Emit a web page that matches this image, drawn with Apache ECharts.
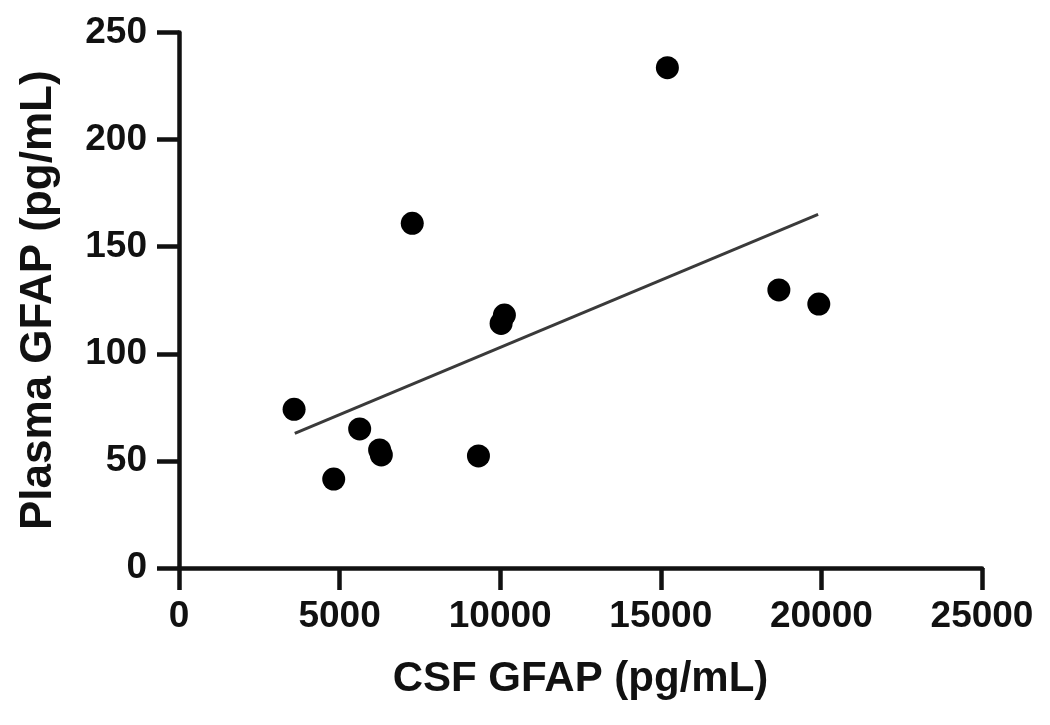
<!DOCTYPE html>
<html>
<head>
<meta charset="utf-8">
<script src="https://cdn.jsdelivr.net/npm/echarts@6/dist/echarts.min.js"></script>
<style>
html,body{margin:0;padding:0;background:#fff;}
#main{width:1050px;height:725px;}
</style>
</head>
<body>
<div id="main"></div>
<script>
const csfGfap = [3583, 4817, 5625, 6246, 6299, 9323, 7262, 10028, 10131, 15205, 18676, 19919];
const plasmaGfap = [74.1, 41.5, 64.9, 55.1, 52.8, 52.3, 160.9, 114.2, 118.1, 233.6, 129.8, 123.2];
const fitX = [3605, 19898];
const fitY = [62.9, 165.1];
const xTicks = [0, 5000, 10000, 15000, 20000, 25000];
const yTicks = [0, 50, 100, 150, 200, 250];

const points = csfGfap.map((x, i) => [x, plasmaGfap[i]]);
const fitLine = fitX.map((x, i) => [x, fitY[i]]);

const font = 'Liberation Sans, Arial, sans-serif';
const chart = echarts.init(document.getElementById('main'));
chart.setOption({
  animation: false,
  backgroundColor: '#fff',
  grid: { left: 179, right: 68, top: 32.5, bottom: 157 },
  xAxis: {
    type: 'value', min: xTicks[0], max: xTicks[xTicks.length - 1], interval: 5000,
    name: 'CSF GFAP (pg/mL)', nameLocation: 'middle', nameGap: 90,
    nameTextStyle: { fontFamily: font, fontWeight: 'bold', fontSize: 42, color: '#111' },
    axisLine: { lineStyle: { color: '#111', width: 4.5 } },
    axisTick: { length: 22, lineStyle: { color: '#111', width: 4.5 } },
    axisLabel: { margin: 30, fontFamily: font, fontWeight: 'bold', fontSize: 37, color: '#111',
      formatter: v => String(v) },
    splitLine: { show: false }
  },
  yAxis: {
    type: 'value', min: yTicks[0], max: yTicks[yTicks.length - 1], interval: 50,
    name: 'Plasma GFAP (pg/mL)', nameLocation: 'middle', nameGap: 118,
    nameTextStyle: { fontFamily: font, fontWeight: 'bold', fontSize: 44, color: '#111' },
    axisLine: { lineStyle: { color: '#111', width: 4.5 } },
    axisTick: { length: 22, lineStyle: { color: '#111', width: 4.5 } },
    axisLabel: { margin: 32, fontFamily: font, fontWeight: 'bold', fontSize: 37, color: '#111',
      formatter: v => String(v) },
    splitLine: { show: false }
  },
  series: [
    {
      type: 'line', data: fitLine, symbol: 'none',
      lineStyle: { color: '#3a3a3a', width: 3 }, z: 2
    },
    {
      type: 'scatter', data: points, symbol: 'circle', symbolSize: 23,
      itemStyle: { color: '#000', opacity: 1 }, z: 3
    }
  ]
});
</script>
</body>
</html>
